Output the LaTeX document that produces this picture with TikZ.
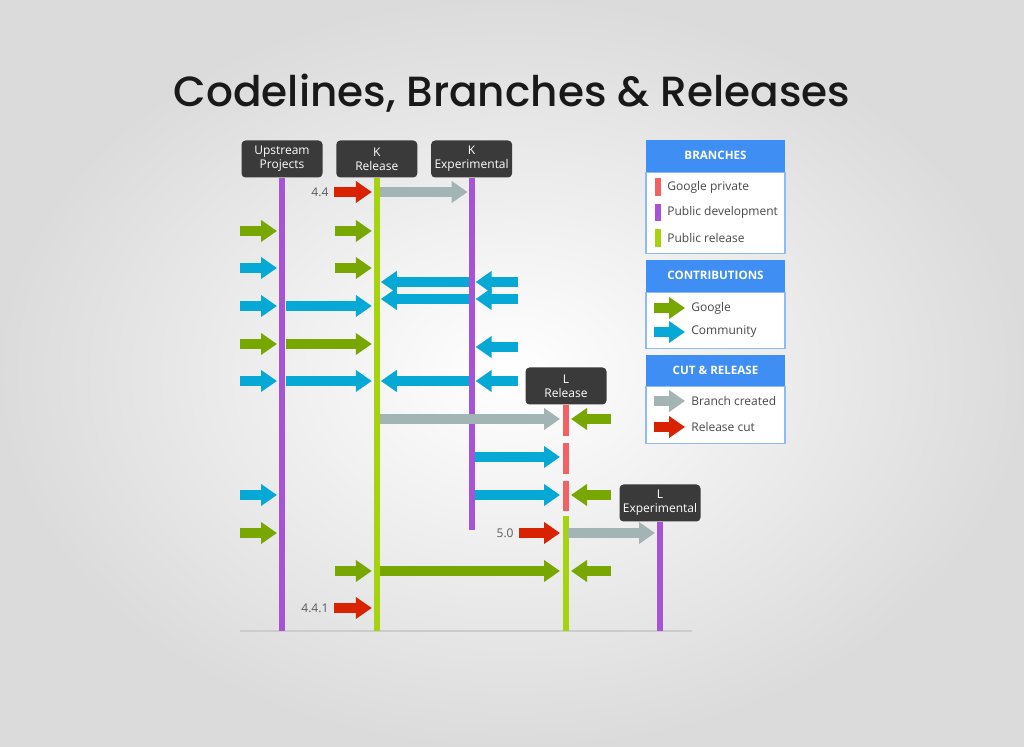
\documentclass[tikz,border=0pt]{standalone}
\usepackage{fontspec}
\setmainfont{Open Sans}
\newfontfamily\titlefont{Poppins Medium}
\usetikzlibrary{positioning,arrows.meta,calc}
\definecolor{ink}{HTML}{3a3a3a}
\definecolor{devpurple}{HTML}{a653d8}
\definecolor{relgreen}{HTML}{a6d20e}
\definecolor{privred}{HTML}{f26262}
\definecolor{googgreen}{HTML}{77a700}
\definecolor{commcyan}{HTML}{06a9d6}
\definecolor{cutgray}{HTML}{a3b4b4}
\definecolor{cutred}{HTML}{d92300}
\definecolor{legblue}{HTML}{3f8ef4}
\definecolor{labelgray}{HTML}{5a5a5a}

\begin{document}
\begin{tikzpicture}[x=0.5pt,y=-0.5pt,
  font=\fontsize{6}{7}\selectfont,
  head/.style={fill=ink,rounded corners=2pt,text=white,align=center,minimum width=40.5pt,minimum height=18.5pt,inner sep=1pt},
  blk/.style={line width=5pt,-{Triangle[length=8pt,width=10.5pt]}},
  google/.style={blk,googgreen},
  community/.style={blk,commcyan},
  branch/.style={blk,cutgray},
  cut/.style={blk,cutred},
  lane/.style={line width=3pt},
  tag/.style={text=labelgray,anchor=east,inner sep=1.5pt},
  leghead/.style={fill=legblue,text=white,font=\fontsize{5.8}{7}\selectfont\bfseries,minimum width=69.5pt,minimum height=16pt,inner sep=0pt},
  legbody/.style={draw=legblue!60,fill=white,line width=0.6pt,minimum width=69.5pt,inner sep=0pt},
  legitem/.style={anchor=west,text=labelgray!80!black,inner sep=0pt},
  ]
  \useasboundingbox (0,0) rectangle (1024,747);
  \shade[inner color=white,outer color=black!14] (0,0) rectangle (1024,747);
  \node[font=\titlefont\fontsize{21.1}{25}\selectfont,text=black!90] (title) at (512,93) {Codelines, Branches \& Releases};

  % codeline heads
  \node[head] (up) at (282,159) {Upstream\\Projects};
  \node[head,right=6.5pt of up] (kr) {K\\Release};
  \node[head,right=6.5pt of kr] (kx) {K\\Experimental};
  \node[head] (lr) at (566,386) {L\\Release};
  \node[head] (lx) at (660,503) {L\\Experimental};
  \coordinate (base) at (0,631);
  \draw[black!20,line width=1pt] (240,631) -- (692,631);

  % codelines
  \draw[lane,devpurple] (up.south) -- (up.south |- base);
  \draw[lane,relgreen] (kr.south) -- (kr.south |- base);
  \draw[lane,devpurple] (kx.south) -- (kx.south |- 0,530);
  \draw[lane,privred,dash pattern=on 15.5pt off 3.5pt] (lr.south) -- (lr.south |- 0,511);
  \draw[lane,relgreen] (lr.south |- 0,516) -- (lr.south |- base);
  \draw[lane,devpurple] (lx.south) -- (lx.south |- base);

  % contributions coming in
  \foreach \l/\y in {up/231,up/344,up/533,kr/231,kr/268,kr/571}
    \draw[google] ($(\l|-0,\y)+(-42,0)$) -- ++(37,0);
  \foreach \y in {268,306,381,495}
    \draw[community] ($(up|-0,\y)+(-42,0)$) -- ++(37,0);
  \foreach \y in {282,299,347,381}
    \draw[community] ($(kx|-0,\y)+(46,0)$) -- ++(-42,0);
  \foreach \y in {419,495,571}
    \draw[google] ($(lr|-0,\y)+(45,0)$) -- ++(-40,0);

  % merges between codelines
  \foreach \y in {282,299,381}
    \draw[community] ($(kx|-0,\y)+(-3,0)$) -- ($(kr|-0,\y)+(4,0)$);
  \foreach \y in {306,381}
    \draw[community] ($(up|-0,\y)+(4,0)$) -- ($(kr|-0,\y)+(-5,0)$);
  \draw[google] ($(up|-0,344)+(4,0)$) -- ($(kr|-0,344)+(-5,0)$);
  \foreach \y in {457,495}
    \draw[community] ($(kx|-0,\y)+(3,0)$) -- ($(lr|-0,\y)+(-6,0)$);
  \draw[google] ($(kr|-0,571)+(3,0)$) -- ($(lr|-0,571)+(-6,0)$);

  % branches and cuts
  \draw[branch] ($(kr|-0,192)+(3,0)$) -- ($(kx|-0,192)+(-4,0)$);
  \draw[branch] ($(kr|-0,419)+(3,0)$) -- ($(lr|-0,419)+(-6,0)$);
  \draw[branch] ($(lr|-0,533)+(2,0)$) -- ($(lx|-0,533)+(-5,0)$);
  \node[tag] (v44) at ($(kr|-0,192)+(-45,0)$) {4.4};
  \node[tag] (v441) at ($(kr|-0,608)+(-45,0)$) {4.4.1};
  \node[tag] (v50) at ($(lr|-0,533)+(-49,0)$) {5.0};
  \draw[cut] ($(v44.east)+(2,0)$) -- ($(kr|-0,192)+(-5,0)$);
  \draw[cut] ($(v441.east)+(2,0)$) -- ($(kr|-0,608)+(-5,0)$);
  \draw[cut] ($(v50.east)+(2,0)$) -- ($(lr|-0,533)+(-6,0)$);

  % legend
  \node[legbody,minimum height=40.5pt,anchor=north] (bbody) at (715.5,172) {};
  \node[leghead,anchor=south] (bhead) at (bbody.north) {BRANCHES};
  \fill[privred] (655,178) rectangle (661,196);
  \fill[devpurple] (655,204) rectangle (661,221);
  \fill[relgreen] (655,229) rectangle (661,247);
  \node[legitem] (gpriv) at (667,187) {Google private};
  \node[legitem] (pdev) at (667,212.5) {Public development};
  \node[legitem] (prel) at (667,238) {Public release};

  \node[legbody,minimum height=28pt,anchor=north] (cbody) at (715.5,292) {};
  \node[leghead,anchor=south] (chead) at (cbody.north) {CONTRIBUTIONS};
  \draw[google] (654,308) -- (685,308);
  \draw[community] (654,332) -- (685,332);
  \node[legitem] (lgoog) at (691,308) {Google};
  \node[legitem] (lcomm) at (691,332) {Community};

  \node[legbody,minimum height=28.5pt,anchor=north] (rbody) at (715.5,386) {};
  \node[leghead,anchor=south,minimum height=15.5pt] (rhead) at (rbody.north) {CUT \& RELEASE};
  \draw[branch] (654,401) -- (685,401);
  \draw[cut] (654,427) -- (685,427);
  \node[legitem] (lbr) at (691,401) {Branch created};
  \node[legitem] (lcut) at (691,427) {Release cut};
\end{tikzpicture}
\end{document}
